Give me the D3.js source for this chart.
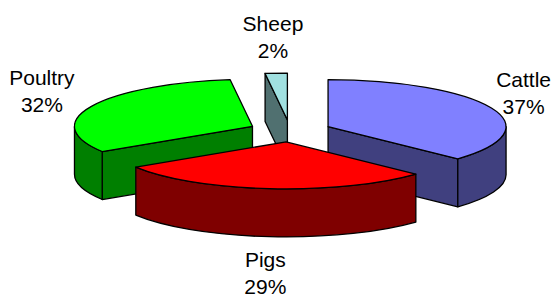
<!doctype html>
<html>
  <head>
    <meta charset="utf-8" />
    <title>Livestock pie</title>
    <style>
      body { margin: 0; background: #fff; }
      svg { display: block; }
      text {
        font-family: "Liberation Sans", Arial, sans-serif;
        font-size: 21px;
        fill: #000;
      }
    </style>
  </head>
  <body>
    <svg id="chart"></svg>
    <script src="https://cdn.jsdelivr.net/npm/d3@7"></script>
    <script>
      // data
      const categories = ["Cattle", "Pigs", "Poultry", "Sheep"];
      const shares = [37, 29, 32, 2];
      const topColors = ["#8080ff", "#ff0000", "#00ff00", "#a0e0e0"];
      const sideColors = ["#40407f", "#7f0000", "#007f00", "#507070"];

      const width = 552, height = 297;
      // pie geometry (flat 3D look)
      const cx = 290, cy = 131, rx = 178, ry = 47, depth = 48, explode = 0.233;

      const svg = d3.select("#chart").attr("width", width).attr("height", height);

      const total = d3.sum(shares);
      const arcs = d3.pie().sort(null).value((d) => d.v)(
        categories.map((c, i) => ({ name: c, v: shares[i], i: i }))
      );

      // point on the ellipse of a slice, k = radius factor
      function pt(c, a, k = 1) {
        return [c[0] + k * rx * Math.sin(a), c[1] - k * ry * Math.cos(a)];
      }
      const down = (p) => [p[0], p[1] + depth];
      const xy = (p) => p[0] + "," + p[1];

      arcs.forEach((d) => {
        const mid = (d.startAngle + d.endAngle) / 2;
        d.apex = pt([cx, cy], mid, explode);
      });

      // back slices first
      const order = arcs.slice().sort((a, b) => a.apex[1] - b.apex[1]);
      const g = svg.append("g").attr("stroke", "#000").attr("stroke-width", 1.3)
        .attr("stroke-linejoin", "round");

      order.forEach((d) => {
        const c = d.apex, a1 = d.startAngle, a2 = d.endAngle;
        const side = sideColors[d.data.i];
        const slice = g.append("g");

        // radial face at start angle
        if (Math.sin(a1) < -1e-6) {
          const p = pt(c, a1);
          slice.append("path").attr("fill", side)
            .attr("d", "M" + xy(c) + "L" + xy(p) + "L" + xy(down(p)) + "L" + xy(down(c)) + "Z");
        }
        // radial face at end angle
        if (Math.sin(a2) > 1e-6) {
          const p = pt(c, a2);
          slice.append("path").attr("fill", side)
            .attr("d", "M" + xy(c) + "L" + xy(p) + "L" + xy(down(p)) + "L" + xy(down(c)) + "Z");
        }
        // outer wall, front half only
        const b1 = Math.max(a1, Math.PI / 2), b2 = Math.min(a2, Math.PI * 1.5);
        if (b2 > b1) {
          const p1 = pt(c, b1), p2 = pt(c, b2);
          const large = b2 - b1 > Math.PI ? 1 : 0;
          slice.append("path").attr("fill", side)
            .attr("d", "M" + xy(p1) + "A" + rx + "," + ry + " 0 " + large + " 1 " + xy(p2) +
              "L" + xy(down(p2)) + "A" + rx + "," + ry + " 0 " + large + " 0 " + xy(down(p1)) + "Z");
        }
        // top face
        const s = pt(c, a1), e = pt(c, a2);
        const large = a2 - a1 > Math.PI ? 1 : 0;
        slice.append("path").attr("fill", topColors[d.data.i])
          .attr("d", "M" + xy(c) + "L" + xy(s) + "A" + rx + "," + ry + " 0 " + large + " 1 " + xy(e) + "Z");
      });

      // labels outside each slice
      const lineH = 27;
      arcs.forEach((d) => {
        const mid = (d.startAngle + d.endAngle) / 2;
        let p = pt(d.apex, mid, 1.1);
        if (Math.cos(mid) < 0) p = down(p);
        const t = svg.append("text").attr("text-anchor", "middle");
        t.append("tspan").attr("x", 0).attr("dy", 0).text(d.data.name);
        t.append("tspan").attr("x", 0).attr("dy", lineH)
          .text(Math.round((d.data.v / total) * 100) + "%");
        const bb = t.node().getBBox();
        let ox = p[0] + Math.sin(mid) * (bb.width / 2 + 4);
        ox = Math.min(ox, width - bb.width / 2 - 1);
        const oy = p[1] - Math.cos(mid) * (bb.height / 2 + 7);
        t.attr("transform", "translate(" + ox + "," + (oy - bb.y - bb.height / 2) + ")");
      });
    </script>
  </body>
</html>
